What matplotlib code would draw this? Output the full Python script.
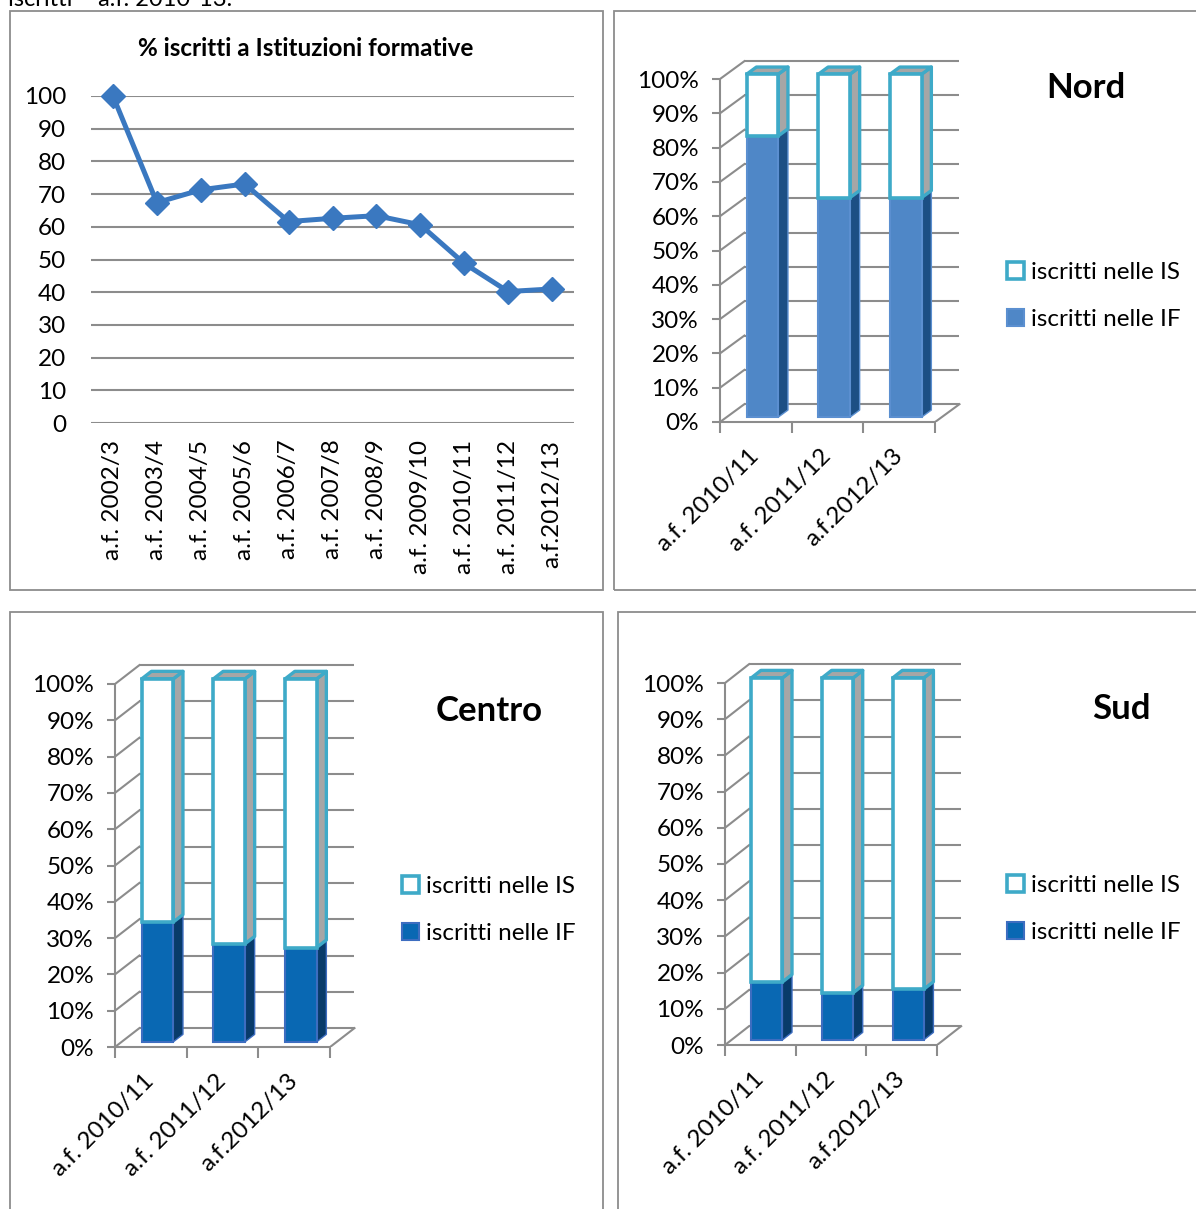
import matplotlib
matplotlib.use('Agg')
import matplotlib.pyplot as plt
from matplotlib.patches import Polygon, Rectangle, Patch

plt.rcParams['font.family'] = ['Lato', 'DejaVu Sans']

W, H = 1196, 1209
fig = plt.figure(figsize=(W / 100, H / 100), dpi=100)

# ---------------- data ----------------
line_title = '% iscritti a Istituzioni formative'
line_cats = ['a.f. 2002/3', 'a.f. 2003/4', 'a.f. 2004/5', 'a.f. 2005/6', 'a.f. 2006/7',
             'a.f. 2007/8', 'a.f. 2008/9', 'a.f. 2009/10', 'a.f. 2010/11', 'a.f. 2011/12',
             'a.f.2012/13']
line_vals = [100, 67.4, 71.3, 73.1, 61.6, 62.6, 63.4, 60.6, 48.8, 40.2, 41.0]
line_ticks = list(range(0, 101, 10))

bar_cats = ['a.f. 2010/11', 'a.f. 2011/12', 'a.f.2012/13']
pct_ticks = list(range(0, 101, 10))
pct_labels = [f'{v}%' for v in pct_ticks]
nord_if = [82, 64, 64]
centro_if = [33, 27, 26]
sud_if = [16, 13, 14]
legend_labels = ['iscritti nelle IS', 'iscritti nelle IF']
header = 'iscritti – a.f. 2010-13.'

# ---------------- style ----------------
GRID = '#8c8c8c'
TEAL = '#3eaac8'
GRAYSIDE = '#a6a6a6'
LINEBLUE = '#3a78c0'
FS = 17.5


def px_axes(left, top, right, bottom):
    return fig.add_axes([left / W, 1 - bottom / H, (right - left) / W, (bottom - top) / H])


def box(x1, y1, x2, y2):
    fig.add_artist(Rectangle((x1 / W, 1 - y2 / H), (x2 - x1) / W, (y2 - y1) / H,
                             transform=fig.transFigure, fill=False, ec='#8c8c8c', lw=1.3))


# header (clipped at the top edge, as in the source page)
fig.text(8 / W, 1 - 6 / H, header, fontsize=17, va='baseline', ha='left')

# panel boxes
box(10, 11, 603, 590)
box(614, 11, 1199, 590)
box(10, 612, 603, 1215)
box(618, 612, 1199, 1215)

# ---------------- line chart ----------------
ax = px_axes(91, 96, 574, 423)
ax.set_xlim(-0.5, len(line_cats) - 0.5)
ax.set_ylim(0, 100)
for s in ax.spines.values():
    s.set_visible(False)
for v in line_ticks:
    ax.axhline(v, color=GRID, lw=1.5, zorder=1)
ax.plot(range(len(line_vals)), line_vals, color=LINEBLUE, lw=3.6, marker='D', ms=12,
        mfc=LINEBLUE, mec=LINEBLUE, zorder=3, clip_on=False)
ax.set_yticks(line_ticks)
ax.set_xticks(range(len(line_cats)))
ax.set_xticklabels(line_cats, rotation=90)
ax.tick_params(axis='y', length=0, pad=18, labelsize=FS)
ax.tick_params(axis='x', length=0, pad=12, labelsize=FS)
fig.text(306 / W, 1 - 48 / H, line_title, fontsize=17.5, fontweight='bold', ha='center', va='center')

# ---------------- pseudo 3D stacked bars ----------------
DX, DY = 0.34, 5.2     # depth of the wall (category units, % units)
F0, FB = 0.27, 0.40    # bar front offset and bar depth, as fraction of wall depth
BW = 0.44


def side_face(ax, xr, y1, y2, fc, ec, lw, z):
    pts = [(xr, y1), (xr + FB * DX, y1 + FB * DY), (xr + FB * DX, y2 + FB * DY), (xr, y2)]
    ax.add_patch(Polygon(pts, closed=True, fc=fc, ec=ec, lw=lw, zorder=z, joinstyle='round'))


def top_face(ax, xl, xr, y, fc, ec, lw, z):
    pts = [(xl, y), (xr, y), (xr + FB * DX, y + FB * DY), (xl + FB * DX, y + FB * DY)]
    ax.add_patch(Polygon(pts, closed=True, fc=fc, ec=ec, lw=lw, zorder=z, joinstyle='round'))


def bar_panel(x0, cat_px, y0, pct_px, if_vals, if_front, if_side, if_edge,
              title, title_xy, legend_xy):
    n = len(if_vals)
    xlim = (0, n + DX + 0.05)
    ylim = (0, 100 + DY + 1.5)
    ax = px_axes(x0 + xlim[0] * cat_px, y0 - ylim[1] * pct_px,
                 x0 + xlim[1] * cat_px, y0 - ylim[0] * pct_px)
    ax.set_xlim(*xlim)
    ax.set_ylim(*ylim)
    ax.patch.set_visible(False)
    ax.spines['top'].set_visible(False)
    ax.spines['right'].set_visible(False)
    for s in ('left', 'bottom'):
        ax.spines[s].set_color(GRID)
        ax.spines[s].set_linewidth(1.5)
    ax.spines['left'].set_bounds(0, 100)
    ax.spines['bottom'].set_bounds(0, n)

    # walls
    for v in pct_ticks:
        ax.plot([DX, n + DX], [v + DY, v + DY], color=GRID, lw=1.5, zorder=1, solid_capstyle='butt')
        ax.plot([0, DX], [v, v + DY], color=GRID, lw=1.5, zorder=1)
    ax.plot([n, n + DX], [0, DY], color=GRID, lw=1.5, zorder=1)

    # bars
    for i, v in enumerate(if_vals):
        c = i + 0.5 + F0 * DX
        yb = F0 * DY
        xl, xr = c - BW / 2, c + BW / 2
        side_face(ax, xr, yb, yb + v, if_side, if_edge, 1.0, 3)
        ax.bar(c, v, BW, bottom=yb, color=if_front, edgecolor=if_edge, lw=1.5, zorder=4)
        side_face(ax, xr, yb + v, yb + 100, GRAYSIDE, TEAL, 2.4, 5)
        top_face(ax, xl, xr, yb + 100, GRAYSIDE, TEAL, 2.4, 5)
        ax.bar(c, 100 - v, BW, bottom=yb + v, color='white', edgecolor=TEAL, lw=2.6, zorder=6)

    ax.set_yticks(pct_ticks, pct_labels)
    ax.tick_params(axis='y', direction='out', length=6, width=1.5, color=GRID,
                   labelsize=FS, pad=9)
    ax.set_xticks(range(n + 1))
    ax.set_xticklabels([])
    ax.tick_params(axis='x', which='major', direction='out', length=8, width=1.5, color=GRID)
    ax.set_xticks([i + 0.5 for i in range(n)], minor=True)
    ax.set_xticklabels(bar_cats, minor=True, rotation=45, ha='right', va='center',
                       rotation_mode='anchor')
    ax.tick_params(axis='x', which='minor', length=0, labelsize=FS, pad=22)

    fig.text(title_xy[0] / W, 1 - title_xy[1] / H, title, fontsize=25, fontweight='bold',
             ha='center', va='center')
    handles = [Patch(fc='white', ec=TEAL, lw=2.6),
               Patch(fc=if_front, ec=if_edge, lw=1.5)]
    fig.legend(handles, legend_labels, loc='upper left',
               bbox_to_anchor=(legend_xy[0] / W, 1 - legend_xy[1] / H),
               frameon=False, fontsize=FS, handlelength=0.7, handleheight=0.7,
               handletextpad=0.3, labelspacing=1.05, borderpad=0, borderaxespad=0)


bar_panel(720, 71.7, 422, 3.43, nord_if, '#4f87c7', '#1c4f84', '#5b8fd0',
          'Nord', (1086, 88), (1007, 262))
bar_panel(115, 71.7, 1047, 3.63, centro_if, '#0968b3', '#083b6a', '#3d6dc0',
          'Centro', (489, 711), (402, 876))
bar_panel(725, 70.7, 1045, 3.62, sud_if, '#0968b3', '#083b6a', '#3d6dc0',
          'Sud', (1121, 709), (1007, 875))

fig.savefig('out.png', dpi=100)
